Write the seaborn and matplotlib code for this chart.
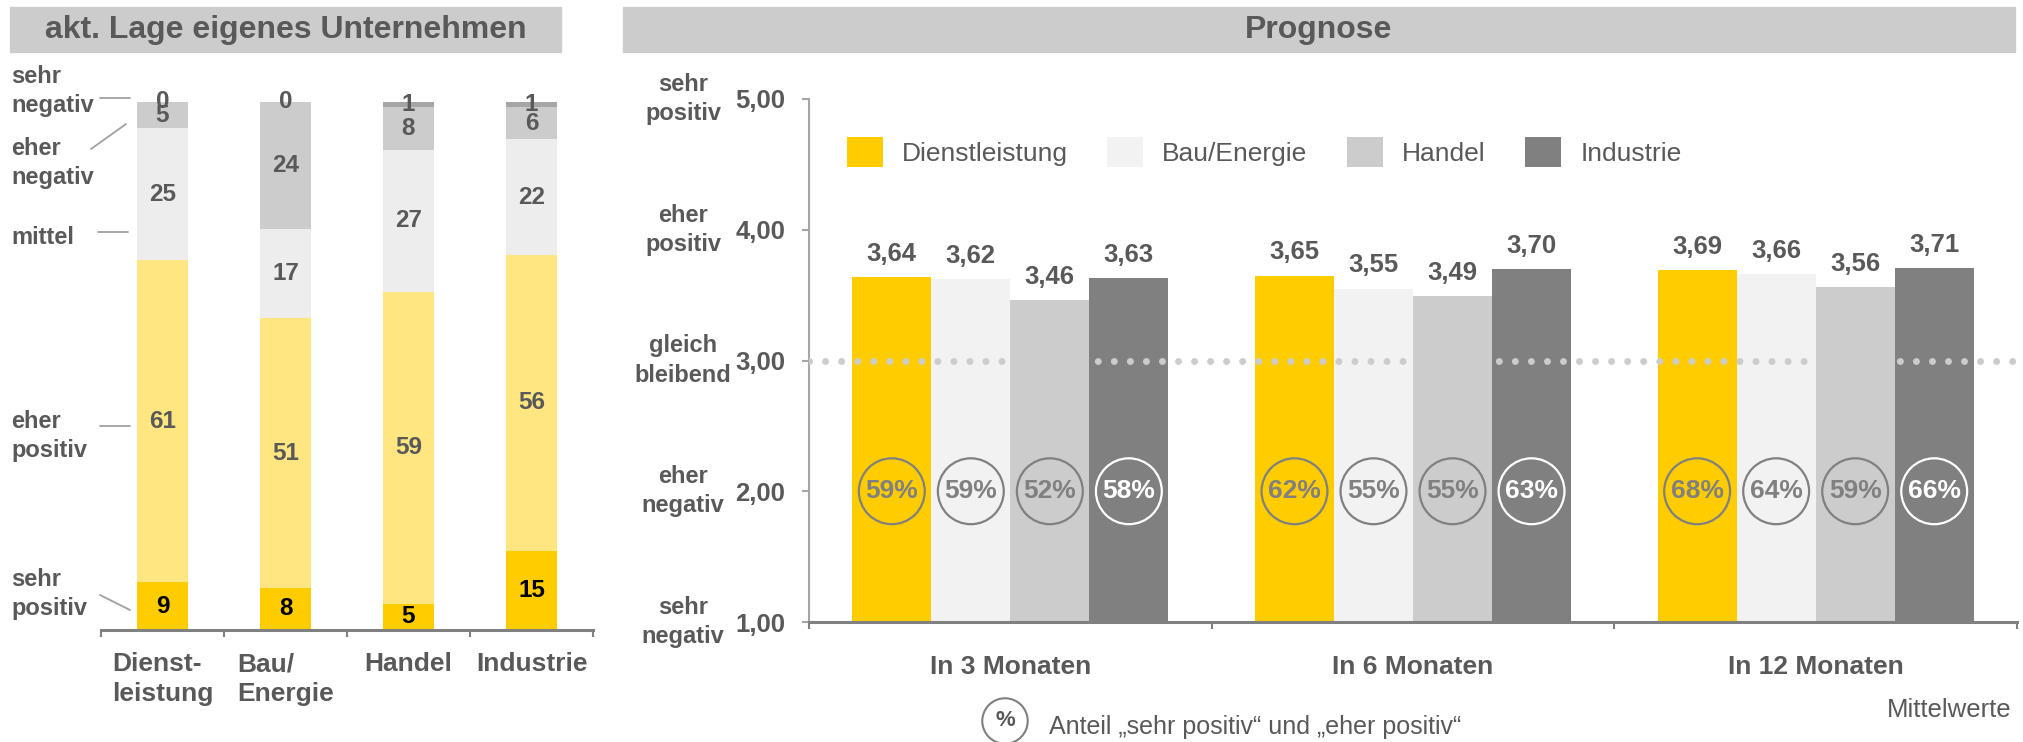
"""
Konjunkturumfrage: aktuelle Lage (gestapelte Anteile) und Prognose (Mittelwerte)
nach Branchen -- seaborn-Nachbau des Referenzcharts.
"""

import matplotlib

matplotlib.use("Agg")
import matplotlib.pyplot as plt
import pandas as pd
import seaborn as sns
from matplotlib.lines import Line2D
from matplotlib.patches import Rectangle

# -----------------------------------------------------------------------------
# Daten
# -----------------------------------------------------------------------------
SECTORS = ["Dienstleistung", "Bau/Energie", "Handel", "Industrie"]
SECTOR_TICKS = ["Dienst-\nleistung", "Bau/\nEnergie", "Handel", "Industrie"]

LEVELS = ["sehr positiv", "eher positiv", "mittel", "eher negativ", "sehr negativ"]
LAGE_SEHR_POSITIV = [9, 8, 5, 15]
LAGE_EHER_POSITIV = [61, 51, 59, 56]
LAGE_MITTEL = [25, 17, 27, 22]
LAGE_EHER_NEGATIV = [5, 24, 8, 6]
LAGE_SEHR_NEGATIV = [0, 0, 1, 1]

HORIZONS = ["In 3 Monaten", "In 6 Monaten", "In 12 Monaten"]
MEAN_DIENST = [3.64, 3.65, 3.69]
MEAN_BAU = [3.62, 3.55, 3.66]
MEAN_HANDEL = [3.46, 3.49, 3.56]
MEAN_INDUSTRIE = [3.63, 3.70, 3.71]
SHARE_DIENST = [59, 62, 68]
SHARE_BAU = [59, 55, 64]
SHARE_HANDEL = [52, 55, 59]
SHARE_INDUSTRIE = [58, 63, 66]

Y_TICKS = [1, 2, 3, 4, 5]
Y_TICK_NAMES = ["sehr\nnegativ", "eher\nnegativ", "gleich\nbleibend",
                "eher\npositiv", "sehr\npositiv"]

# -----------------------------------------------------------------------------
# Stil
# -----------------------------------------------------------------------------
W, H = 2024, 742
TEXT = "#595959"
LAGE_COLORS = {
    "sehr positiv": "#FFCC00",
    "eher positiv": "#FFE680",
    "mittel": "#EDEDED",
    "eher negativ": "#CCCCCC",
    "sehr negativ": "#A6A6A6",
}
PALETTE = dict(zip(SECTORS, ["#FFCC00", "#F2F2F2", "#CCCCCC", "#808080"]))
CIRCLE_EDGE = dict(zip(SECTORS, ["#808080", "#808080", "#808080", "white"]))
CIRCLE_TEXT = dict(zip(SECTORS, ["#808080", "#808080", "#808080", "white"]))

sns.set_style("white")
plt.rcParams["font.family"] = ["Liberation Sans", "DejaVu Sans"]


def fx(x):
    return x / W


def fy(y):
    return 1 - y / H


fig = plt.figure(figsize=(W / 100, H / 100), dpi=100)
ax1 = fig.add_axes([fx(101), fy(630), fx(593 - 101), (630 - 102) / H])
ax2 = fig.add_axes([fx(809), fy(622), fx(2017 - 809), (622 - 99) / H])

# -----------------------------------------------------------------------------
# Titelbalken
# -----------------------------------------------------------------------------
for x0, x1, title in [(10, 561, "akt. Lage eigenes Unternehmen"), (623, 2015, "Prognose")]:
    fig.add_artist(Rectangle((fx(x0), fy(52)), fx(x1 - x0), 45 / H,
                             transform=fig.transFigure, color="#CCCCCC", zorder=0))
    fig.text(fx((x0 + x1) / 2), fy(30), title, ha="center", va="center",
             fontsize=23, fontweight="bold", color=TEXT)

# -----------------------------------------------------------------------------
# Links: gestapelte Anteile (kumuliert, oberste Schicht zuerst)
# -----------------------------------------------------------------------------
lage = pd.DataFrame({
    "sehr positiv": LAGE_SEHR_POSITIV,
    "eher positiv": LAGE_EHER_POSITIV,
    "mittel": LAGE_MITTEL,
    "eher negativ": LAGE_EHER_NEGATIV,
    "sehr negativ": LAGE_SEHR_NEGATIV,
}, index=SECTOR_TICKS)
cum = lage.cumsum(axis=1)

for level in reversed(LEVELS):
    sns.barplot(x=SECTOR_TICKS, y=cum[level].values, order=SECTOR_TICKS,
                color=LAGE_COLORS[level], saturation=1, width=0.415,
                linewidth=0, ax=ax1)

for i, name in enumerate(SECTOR_TICKS):
    for level in LEVELS:
        top = cum.loc[name, level]
        val = lage.loc[name, level]
        ax1.text(i, top - val / 2, f"{val}", ha="center", va="center",
                 fontsize=17.5, fontweight="bold",
                 color="black" if level == "sehr positiv" else TEXT)

ax1.set_ylim(0, 100)
ax1.set_xlim(-0.5, 3.5)
ax1.set_yticks([])
ax1.set_xlabel("")
ax1.set_ylabel("")
ax1.set_xticks(range(4))
ax1.set_xticklabels(SECTOR_TICKS, fontsize=19, fontweight="bold", color=TEXT,
                    multialignment="left", linespacing=1.3)
ax1.set_xticks([-0.5, 0.5, 1.5, 2.5, 3.5], minor=True)
ax1.tick_params(axis="x", which="major", length=0, pad=16)
ax1.tick_params(axis="x", which="minor", length=5, width=1.5, color="#808080",
                direction="out", bottom=True)
for s in ["top", "right", "left"]:
    ax1.spines[s].set_visible(False)
ax1.spines["bottom"].set_color("#808080")
ax1.spines["bottom"].set_linewidth(2.2)

# Skalenbeschriftung links mit Hinweislinien
for label, ty, (x0, y0, x1, y1) in [
    ("sehr\nnegativ", 91, (100, 98, 130, 98)),
    ("eher\nnegativ", 163, (91, 149, 126, 124)),
    ("mittel", 238, (98, 232, 128, 232)),
    ("eher\npositiv", 436, (100, 426, 130, 426)),
    ("sehr\npositiv", 594, (100, 595, 130, 610)),
]:
    fig.text(fx(11), fy(ty), label, ha="left", va="center", fontsize=17,
             fontweight="bold", color=TEXT, linespacing=1.35)
    fig.add_artist(Line2D([fx(x0), fx(x1)], [fy(y0), fy(y1)],
                          transform=fig.transFigure, color="#A0A0A0", lw=1.3))

# -----------------------------------------------------------------------------
# Rechts: Prognose-Mittelwerte
# -----------------------------------------------------------------------------
means = pd.DataFrame({
    "Dienstleistung": MEAN_DIENST,
    "Bau/Energie": MEAN_BAU,
    "Handel": MEAN_HANDEL,
    "Industrie": MEAN_INDUSTRIE,
}, index=HORIZONS)
shares = {
    "Dienstleistung": SHARE_DIENST,
    "Bau/Energie": SHARE_BAU,
    "Handel": SHARE_HANDEL,
    "Industrie": SHARE_INDUSTRIE,
}
prog = (means.rename_axis("Zeitraum").reset_index()
        .melt(id_vars="Zeitraum", var_name="Branche", value_name="Mittelwert"))

sns.barplot(data=prog, x="Zeitraum", y="Mittelwert", hue="Branche",
            order=HORIZONS, hue_order=SECTORS, palette=PALETTE, saturation=1,
            width=0.785, gap=0, linewidth=0, ax=ax2)

for sector, container in zip(SECTORS, ax2.containers):
    vals = means[sector].tolist()
    ax2.bar_label(container, labels=[f"{v:.2f}".replace(".", ",") for v in vals],
                  padding=8, fontsize=18.5, fontweight="bold", color=TEXT)
    for rect, pct in zip(container.patches, shares[sector]):
        cx = rect.get_x() + rect.get_width() / 2
        ax2.scatter([cx], [2.0], s=2250, facecolors="none",
                    edgecolors=CIRCLE_EDGE[sector], linewidths=1.6, zorder=5)
        ax2.text(cx, 2.0, f"{pct}%", ha="center", va="center", fontsize=19,
                 fontweight="bold", color=CIRCLE_TEXT[sector], zorder=6)

# Punktlinie "gleich bleibend"
ax2.axhline(3, color="#CCCCCC", lw=5, linestyle=(0, (0.01, 2.3)),
            dash_capstyle="round", zorder=4)

ax2.set_ylim(1, 5)
ax2.set_xlim(-0.5, 2.5)
ax2.set_xlabel("")
ax2.set_ylabel("")
ax2.set_yticks(Y_TICKS)
ax2.set_yticklabels([f"{t:.2f}".replace(".", ",") for t in Y_TICKS],
                    fontsize=18.5, fontweight="bold", color=TEXT)
ax2.tick_params(axis="y", length=5, width=1.5, color="#A6A6A6", pad=12,
                direction="out", left=True)
for t, name in zip(Y_TICKS, Y_TICK_NAMES):
    ax2.text(-0.1043, t, name, transform=ax2.get_yaxis_transform(), ha="center",
             va="center", fontsize=17, fontweight="bold", color=TEXT,
             linespacing=1.35)

ax2.set_xticks(range(3))
ax2.set_xticklabels(HORIZONS, fontsize=19, fontweight="bold", color=TEXT)
ax2.set_xticks([-0.5, 0.5, 1.5, 2.5], minor=True)
ax2.tick_params(axis="x", which="major", length=0, pad=24)
ax2.tick_params(axis="x", which="minor", length=5, width=1.5, color="#808080",
                direction="out", bottom=True)
for s in ["top", "right"]:
    ax2.spines[s].set_visible(False)
ax2.spines["left"].set_color("#A6A6A6")
ax2.spines["left"].set_linewidth(1.5)
ax2.spines["bottom"].set_color("#808080")
ax2.spines["bottom"].set_linewidth(2.2)

# Legende
old = ax2.get_legend()
handles = old.legend_handles
labels = [t.get_text() for t in old.get_texts()]
old.remove()
leg = ax2.legend(handles, labels, loc="upper left", ncol=4, frameon=False,
                 bbox_to_anchor=(fx(847), fy(137)), bbox_transform=fig.transFigure,
                 fontsize=19, handlelength=1.36, handleheight=1.36,
                 handletextpad=0.72, columnspacing=1.5, borderpad=0,
                 borderaxespad=0)
for txt in leg.get_texts():
    txt.set_color(TEXT)

# Fußzeile
fig.text(fx(1005), fy(721), "%", ha="center", va="center", fontsize=16,
         fontweight="bold", color=TEXT,
         bbox=dict(boxstyle="circle,pad=0.55", fc="none", ec="#808080", lw=1.5))
fig.text(fx(1049), fy(727), "Anteil „sehr positiv“ und „eher positiv“",
         ha="left", va="center", fontsize=18, color=TEXT)
fig.text(fx(2012), fy(710), "Mittelwerte", ha="right", va="center",
         fontsize=18.5, color=TEXT)

fig.savefig("out.png", dpi=100)
